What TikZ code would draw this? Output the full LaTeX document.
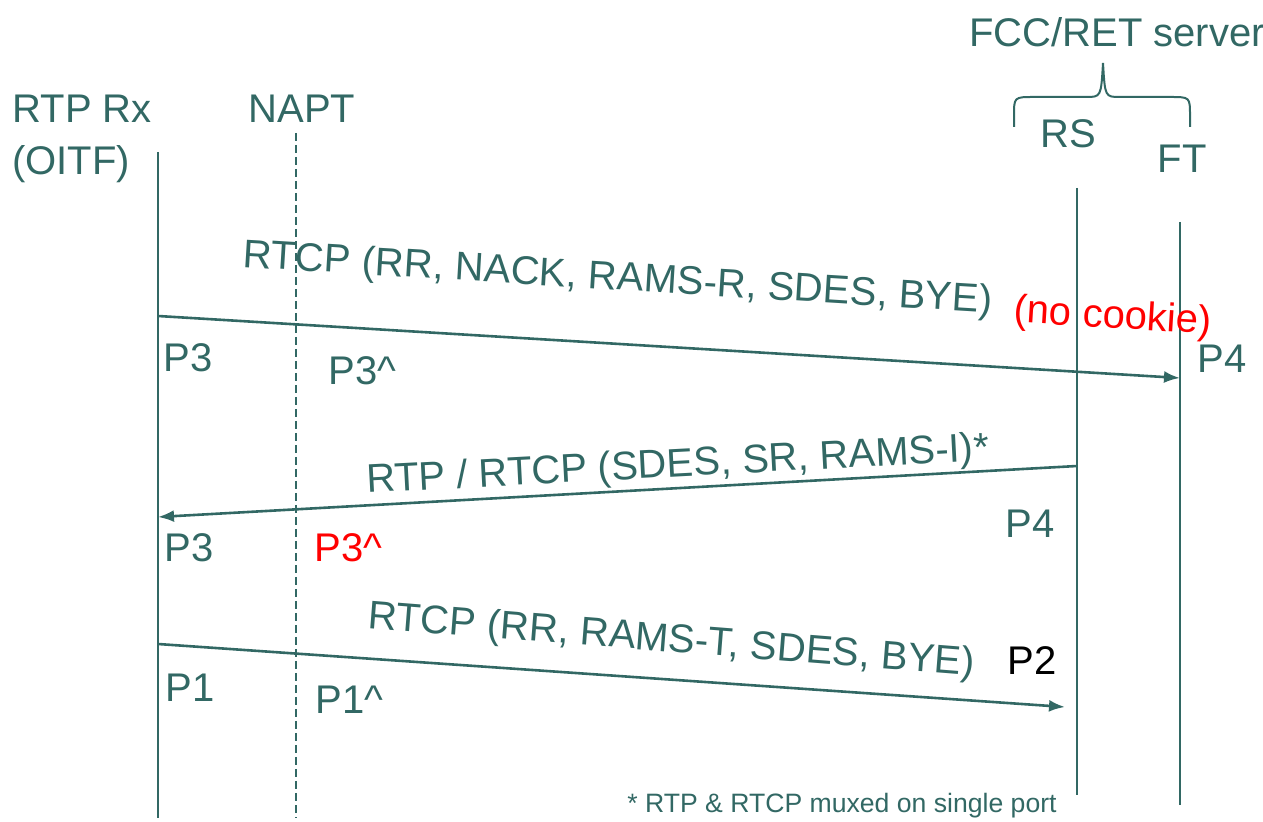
\documentclass[tikz,border=0pt]{standalone}
\usepackage{fontspec}
\setmainfont{Liberation Sans}
\usepackage{tikz}
\usetikzlibrary{arrows.meta,shapes}
\definecolor{seq}{RGB}{50,104,100}
\tikzstyle{lbl}=[inner sep=0pt,text=seq,font=\fontsize{20}{26}\selectfont]
\tikzstyle{note}=[inner sep=0pt,text=seq,font=\fontsize{13.3}{16}\selectfont]
\tikzstyle{lifeline}=[draw=seq,line width=1pt]
\tikzstyle{natline}=[draw=seq,line width=0.6pt,dash pattern=on 4pt off 2pt]
\tikzstyle{msg}=[draw=seq,line width=1.3pt,-{Latex[length=8pt,width=6pt]}]

\begin{document}
\begin{tikzpicture}[x=0.5pt,y=-0.5pt]
        \useasboundingbox (0,0) rectangle (1263,822);
        % entities
        \node[lbl,anchor=north west,align=left] (rx) at (12,95) {RTP Rx\\(OITF)};
        \node[lbl,anchor=base] (napt) at (302,123) {NAPT};
        \node[lbl,anchor=base] (srv) at (1117,47) {FCC/RET server};
        \node[lbl,anchor=base] (rs) at (1068,148) {RS};
        \node[lbl,anchor=base] (ft) at (1182,173) {FT};
        \draw[seq,line width=1pt] (1014,127) -- (1014,116) .. controls (1014,97) .. (1034,97)
            -- (1086,97) .. controls (1101,97) .. (1103,63) .. controls (1105,97) .. (1120,97)
            -- (1170,97) .. controls (1190,97) .. (1190,116) -- (1190,127);
        % lifelines
        \coordinate (rxtop) at (158,152);   \coordinate (rxbot) at (158,818);
        \coordinate (nattop) at (296,133);  \coordinate (natbot) at (296,818);
        \coordinate (rstop) at (1077,188);  \coordinate (rsbot) at (1077,795);
        \coordinate (fttop) at (1180,222);  \coordinate (ftbot) at (1180,805);
        \draw[lifeline] (rxtop) -- (rxbot);
        \draw[natline] (nattop) -- (natbot);
        \draw[lifeline] (rstop) -- (rsbot);
        \draw[lifeline] (fttop) -- (ftbot);
        % messages
        \coordinate (m1a) at (158,316);  \coordinate (m1b) at (1180,378);
        \coordinate (m2a) at (1077,466); \coordinate (m2b) at (158,517);
        \coordinate (m3a) at (158,644);  \coordinate (m3b) at (1065,707);
        \draw[msg] (m1a) -- (m1b);
        \draw[msg] (m2a) -- (m2b);
        \draw[msg] (m3a) -- (m3b);
        \node[lbl,anchor=base west,rotate=-3.5] (l1) at (242,267) {RTCP (RR, NACK, RAMS-R, SDES, BYE)};
        \node[lbl,anchor=base west,rotate=-3.5,text=red] (nocookie) at (1013,322) {(no cookie)};
        \node[lbl,anchor=base west,rotate=3.0] (l2) at (367,493) {RTP / RTCP (SDES, SR, RAMS-I)*};
        \node[lbl,anchor=base west,rotate=-4.5] (l3) at (367,628) {RTCP (RR, RAMS-T, SDES, BYE)};
        % ports
        \node[lbl,anchor=base west] (p3a) at (163,372) {P3};
        \node[lbl,anchor=base west] (p3na) at (328,385) {P3\textasciicircum};
        \node[lbl,anchor=base west] (p4a) at (1197,373) {P4};
        \node[lbl,anchor=base west] (p4b) at (1005,538) {P4};
        \node[lbl,anchor=base west] (p3b) at (164,562) {P3};
        \node[lbl,anchor=base west,text=red] (p3nb) at (314,562) {P3\textasciicircum};
        \node[lbl,anchor=base west,text=black] (p2) at (1007,675) {P2};
        \node[lbl,anchor=base west] (p1) at (165,702) {P1};
        \node[lbl,anchor=base west] (p1n) at (315,713) {P1\textasciicircum};
        \node[note,anchor=base west] (foot) at (627,812) {* RTP \& RTCP muxed on single port};
\end{tikzpicture}
\end{document}
